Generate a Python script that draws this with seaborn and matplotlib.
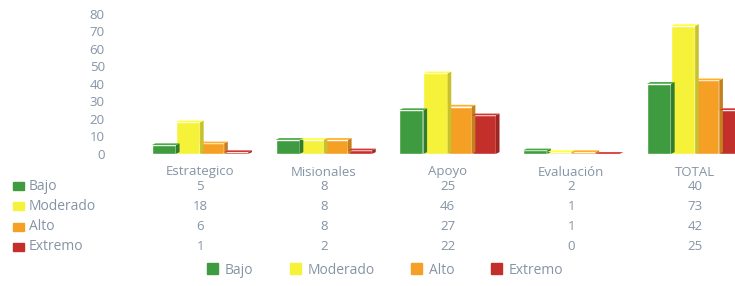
import numpy as np
import pandas as pd
import matplotlib
matplotlib.use("Agg")
import matplotlib.pyplot as plt
import matplotlib.transforms as mtransforms
from matplotlib.patches import Polygon, Rectangle
import seaborn as sns

categories = ["Estrategico", "Misionales", "Apoyo", "Evaluación", "TOTAL"]
series = ["Bajo", "Moderado", "Alto", "Extremo"]
bajo = [5, 8, 25, 2, 40]
moderado = [18, 8, 46, 1, 73]
alto = [6, 8, 27, 1, 42]
extremo = [1, 2, 22, 0, 25]
colors = ["#3f9b3f", "#f6f23a", "#f5a024", "#c3302c"]
text_col = "#8594a6"

values = [bajo, moderado, alto, extremo]
df = pd.DataFrame({
    "Proceso": categories * len(series),
    "Nivel": [s for s in series for _ in categories],
    "Valor": [v for vals in values for v in vals],
})

sns.set_style("white")
plt.rcParams["font.family"] = ["Open Sans", "DejaVu Sans"]

fig = plt.figure(figsize=(7.35, 2.86), dpi=100)
ax = fig.add_axes([0.188, 0.462, 0.842, 0.49])

sns.barplot(data=df, x="Proceso", y="Valor", hue="Nivel", hue_order=series,
            palette=colors, width=0.78, ax=ax, legend=False, saturation=1)

# fake depth like the Excel 3D columns
ax.set_ylim(0, 80)
ax.set_xlim(-0.5, 4.5)
for p, c in zip(ax.patches, [c for c in colors for _ in categories]):
    x0, y0, w, h = p.get_x(), p.get_y(), p.get_width(), p.get_height()
    dx, dy = w * 0.15, 1.0
    dark = tuple(np.array(matplotlib.colors.to_rgb(c)) * 0.8)
    light = tuple(np.minimum(np.array(matplotlib.colors.to_rgb(c)) * 1.1, 1))
    ax.add_patch(Polygon([[x0 + w, y0], [x0 + w + dx, y0 + dy], [x0 + w + dx, y0 + h + dy], [x0 + w, y0 + h]],
                         closed=True, color=dark, lw=0, clip_on=False))
    ax.add_patch(Polygon([[x0, y0 + h], [x0 + dx, y0 + h + dy], [x0 + w + dx, y0 + h + dy], [x0 + w, y0 + h]],
                         closed=True, color=light, lw=0, clip_on=False))

ax.set_yticks(range(0, 81, 10))
ax.tick_params(axis="y", colors=text_col, labelsize=9.5, length=0, pad=24)
ax.set_xticks([])
ax.set_xlabel("")
ax.set_ylabel("")
sns.despine(ax=ax, left=True, bottom=True)

# data table under the chart
trans = mtransforms.blended_transform_factory(ax.transData, fig.transFigure)
fig_y = [1 - 172 / 286, 1 - 186 / 286, 1 - 206 / 286, 1 - 227 / 286, 1 - 247 / 286]
for i, cat in enumerate(categories):
    fig.text(i, fig_y[0], cat, transform=trans, ha="center", va="center",
             color=text_col, fontsize=9.5)
for r, (name, vals, c) in enumerate(zip(series, values, colors)):
    y = fig_y[r + 1]
    fig.patches.append(Rectangle((13 / 735, y - 0.013), 11 / 735, 0.026,
                                 transform=fig.transFigure, color=c, figure=fig))
    fig.text(29 / 735, y, name, ha="left", va="center", color=text_col, fontsize=10)
    for i, v in enumerate(vals):
        fig.text(i, y, str(v), transform=trans, ha="center", va="center",
                 color=text_col, fontsize=9.5)

# legend at the bottom
handles = [Rectangle((0, 0), 1, 1, color=c) for c in colors]
fig.legend(handles, series, loc="center", bbox_to_anchor=(0.524, 1 - 270 / 286),
           ncol=4, frameon=False, fontsize=10, handlelength=0.8, handleheight=0.8,
           handletextpad=0.5, columnspacing=2.6, labelcolor=text_col)

fig.savefig("out.png", dpi=100, facecolor="white")
